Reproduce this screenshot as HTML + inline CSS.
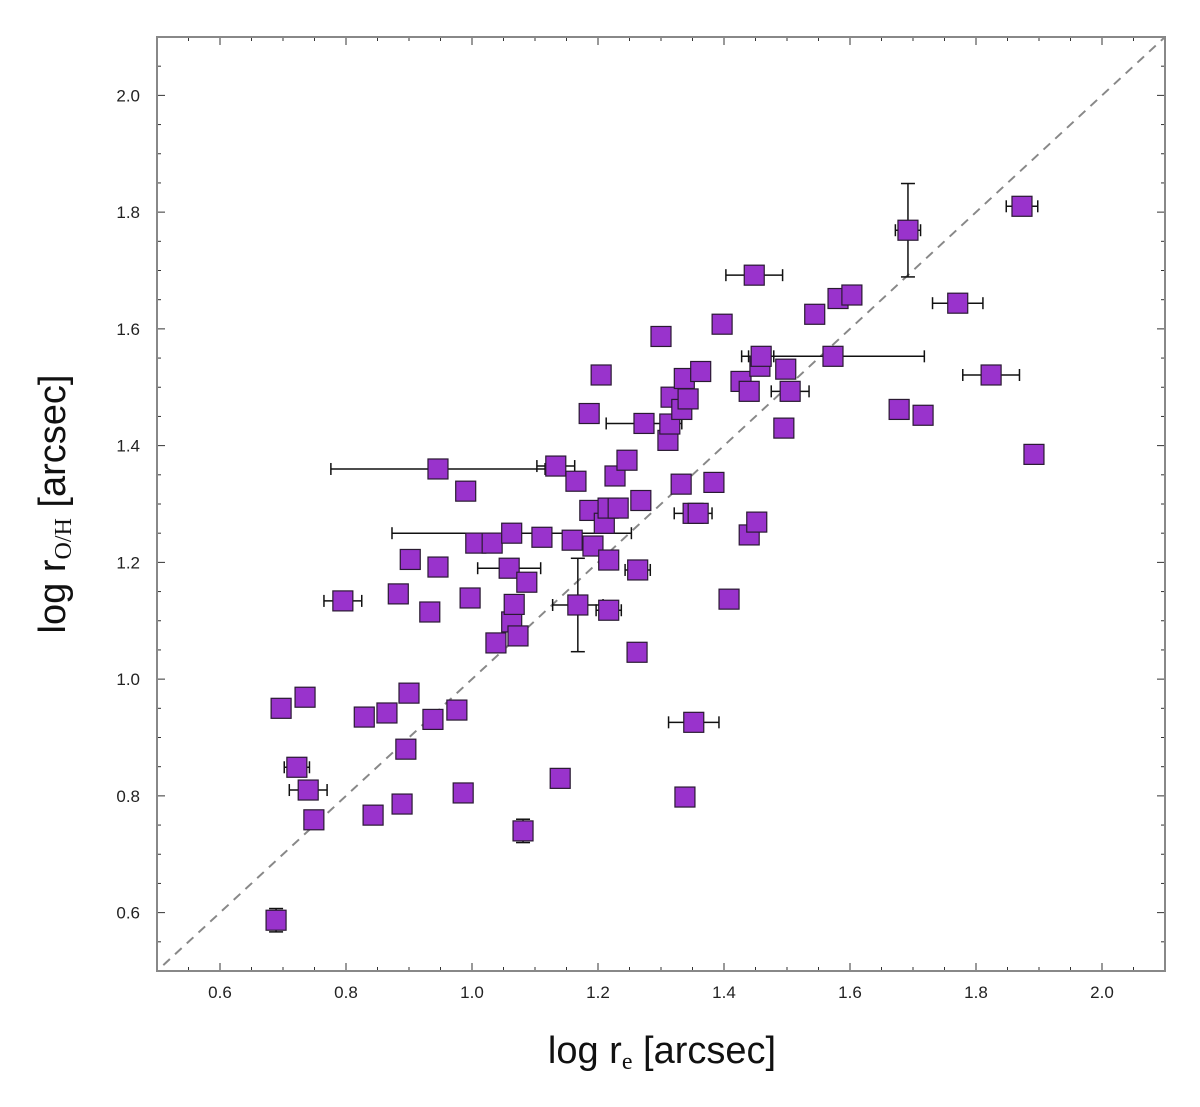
<!DOCTYPE html>
<html><head><meta charset="utf-8"><style>
body{margin:0;background:#fff;}
svg{display:block;font-family:"Liberation Sans",sans-serif;}
</style></head><body>
<svg id="chart" width="1200" height="1107" viewBox="0 0 1200 1107"></svg>
<script>
const xs=[0.689,0.697,0.735,0.722,0.740,0.749,0.795,0.829,0.843,0.865,0.883,0.889,0.895,0.900,0.902,0.933,0.938,0.946,0.946,0.976,0.986,0.990,0.997,1.006,1.032,1.038,1.059,1.063,1.063,1.067,1.073,1.081,1.087,1.111,1.133,1.140,1.159,1.165,1.168,1.186,1.187,1.192,1.205,1.210,1.216,1.217,1.217,1.227,1.232,1.246,1.262,1.263,1.268,1.273,1.300,1.311,1.314,1.316,1.332,1.333,1.337,1.338,1.343,1.352,1.351,1.359,1.363,1.384,1.397,1.408,1.427,1.440,1.440,1.448,1.452,1.457,1.459,1.573,1.495,1.498,1.505,1.544,1.581,1.603,1.678,1.692,1.716,1.771,1.824,1.873,1.892];
const ys=[0.587,0.950,0.969,0.849,0.810,0.759,1.134,0.935,0.767,0.942,1.146,0.786,0.880,0.976,1.205,1.115,0.931,1.192,1.360,0.947,0.805,1.322,1.139,1.233,1.233,1.062,1.190,1.250,1.098,1.128,1.074,0.740,1.166,1.243,1.365,0.830,1.238,1.339,1.127,1.455,1.289,1.228,1.521,1.267,1.293,1.204,1.118,1.348,1.293,1.375,1.046,1.187,1.306,1.438,1.587,1.409,1.437,1.483,1.334,1.462,1.515,0.798,1.480,0.926,1.284,1.284,1.527,1.337,1.608,1.137,1.510,1.493,1.247,1.692,1.269,1.536,1.553,1.553,1.430,1.531,1.493,1.625,1.652,1.658,1.462,1.769,1.452,1.644,1.521,1.810,1.385];
const xerrs=[0.01,0.015,0,0.02,0.03,0.01,0.03,0,0.015,0.015,0,0,0.015,0.01,0.015,0,0,0,0.17,0,0.01,0,0,0,0,0,0.05,0.19,0,0,0,0.005,0,0,0.03,0.01,0,0,0.04,0,0,0,0,0,0,0,0.02,0,0,0,0,0.02,0,0.06,0.01,0,0,0,0,0,0,0.01,0,0.04,0.03,0,0,0,0,0,0,0,0,0.045,0,0,0.02,0.145,0,0,0.03,0,0,0,0,0.02,0,0.04,0.045,0.025,0.015];
const yerrs=[0.02,0,0,0,0,0.01,0,0,0,0,0,0,0,0,0,0,0,0,0,0,0,0,0,0,0,0,0,0,0,0,0,0.02,0,0,0,0.01,0,0,0.08,0,0,0,0,0,0,0,0,0,0,0,0,0,0,0,0,0,0,0,0,0,0,0,0,0,0,0,0,0,0,0,0,0,0,0,0,0,0,0,0,0,0,0,0,0,0,0.08,0,0,0,0,0];
const ticks=[0.6,0.8,1.0,1.2,1.4,1.6,1.8,2.0];
const tickLabels=["0.6","0.8","1.0","1.2","1.4","1.6","1.8","2.0"];
const X0=157,X1=1165,Y0=971,Y1=37,MIN=0.5,MAX=2.1;
const sx=v=>X0+(v-MIN)/(MAX-MIN)*(X1-X0);
const sy=v=>Y0-(v-MIN)/(MAX-MIN)*(Y0-Y1);
const svg=document.getElementById('chart');
const NS='http://www.w3.org/2000/svg';
function mk(t,a,p){const e=document.createElementNS(NS,t);for(const k in a)e.setAttribute(k,a[k]);(p||svg).appendChild(e);return e;}
// ticks
const tg=mk('g',{stroke:'#333','stroke-width':1});


for(let v=0.5;v<=2.1001;v+=0.05){
  const major=Math.abs(v*5-Math.round(v*5))<1e-6;
  const L=major?8:4;
  const px=sx(v),py=sy(v);
  mk('line',{x1:px,y1:Y0,x2:px,y2:Y0-L},tg);mk('line',{x1:px,y1:Y1,x2:px,y2:Y1+L},tg);
  mk('line',{x1:X0,y1:py,x2:X0+L,y2:py},tg);mk('line',{x1:X1,y1:py,x2:X1-L,y2:py},tg);
}
ticks.forEach((v,i)=>{
  const a=mk('text',{x:sx(v),y:Y0+27,'font-size':17,'text-anchor':'middle',fill:'#222'});
  a.textContent=tickLabels[i];
  
  
  const b=mk('text',{x:X0-17,y:sy(v)+6,'font-size':17,'text-anchor':'end',fill:'#222'});
  b.textContent=tickLabels[i];
  
  
});
// diagonal
const dl=mk('line',{x1:sx(0.51),y1:sy(0.51),x2:sx(2.1),y2:sy(2.1),stroke:'#888','stroke-width':2,'stroke-dasharray':'9,7'});


// error bars
const eg=mk('g',{stroke:'#111','stroke-width':1.5});


xs.forEach((x,i)=>{
  const px=sx(x),py=sy(ys[i]);
  if(xerrs[i]>0){const a=sx(x-xerrs[i]),b=sx(x+xerrs[i]);
    mk('line',{x1:a,y1:py,x2:b,y2:py},eg);mk('line',{x1:a,y1:py-6,x2:a,y2:py+6},eg);mk('line',{x1:b,y1:py-6,x2:b,y2:py+6},eg);}
  if(yerrs[i]>0){const a=sy(ys[i]-yerrs[i]),b=sy(ys[i]+yerrs[i]);
    mk('line',{x1:px,y1:a,x2:px,y2:b},eg);mk('line',{x1:px-7,y1:a,x2:px+7,y2:a},eg);mk('line',{x1:px-7,y1:b,x2:px+7,y2:b},eg);}
});
// markers
xs.forEach((x,i)=>{
  const r=mk('rect',{x:sx(x)-10,y:sy(ys[i])-10,width:20,height:20,fill:'#9933CC',stroke:'#2a1a33','stroke-width':1.2});
  
  
});
// frame
const fr=mk('rect',{x:X0,y:Y1,width:X1-X0,height:Y0-Y1,fill:'none',stroke:'#888','stroke-width':2});


// axis titles
const xt=mk('text',{x:662,y:1063,'font-size':38,'text-anchor':'middle',fill:'#111'});
xt.innerHTML='log r<tspan font-family="Liberation Serif" font-size="24" dy="6">e</tspan><tspan dy="-6"> [arcsec]</tspan>';


const yt=mk('text',{x:0,y:0,'font-size':38,'text-anchor':'middle',fill:'#111',transform:'translate(65,504) rotate(-90)'});
yt.innerHTML='log r<tspan font-family="Liberation Serif" font-size="24" dy="6">O/H</tspan><tspan dy="-6"> [arcsec]</tspan>';


</script>
</body></html>
